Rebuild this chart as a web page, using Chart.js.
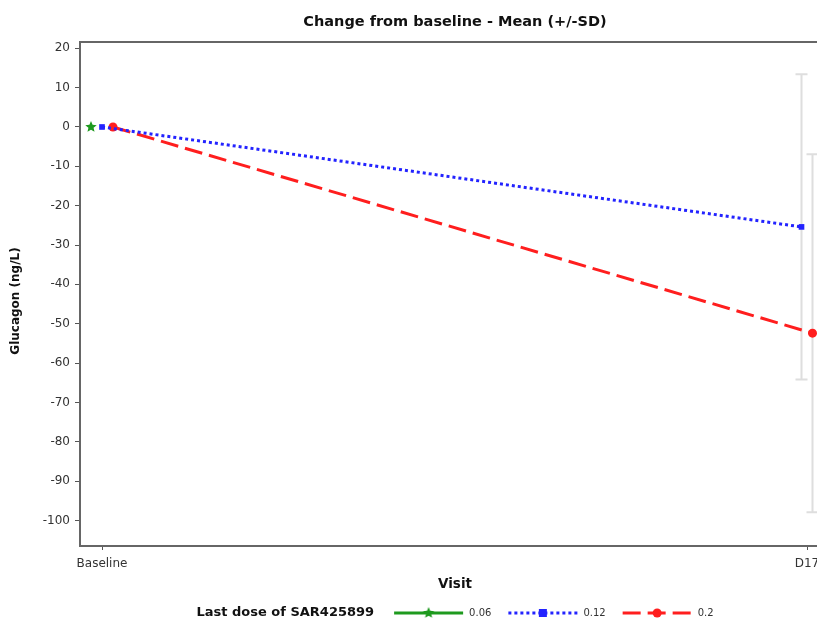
<!DOCTYPE html>
<html>
<head>
<meta charset="utf-8">
<script src="https://cdn.jsdelivr.net/npm/chart.js@4"></script>
<style>
html,body{margin:0;padding:0;background:#fff;overflow:hidden;}
#wrap{width:817px;height:621px;overflow:hidden;position:relative;}
canvas{display:block;}
</style>
</head>
<body>
<div id="wrap"><canvas id="c" width="860" height="621"></canvas></div>
<script>
// ---- data ----
const visits = ['Baseline', 'D17'];
const doseLabels = ['0.06', '0.12', '0.2'];
const mean006 = [0, null];
const mean012 = [0, -25.4];
const mean020 = [0, -52.4];
const sd006 = [0, null];
const sd012 = [0, 38.8];
const sd020 = [0, 45.5];
const yTickValues = [20, 10, 0, -10, -20, -30, -40, -50, -60, -70, -80, -90, -100];
const chartTitle = 'Change from baseline - Mean (+/-SD)';
const yTitle = 'Glucagon (ng/L)';
const xTitle = 'Visit';
const legendTitle = 'Last dose of SAR425899';

// ---- styles ----
const FONT = "'DejaVu Sans', Verdana, sans-serif";
const colors = ['#1e9a1e', '#2323ff', '#ff1e1e'];
const dashes = [[], [3, 3], [18, 7]];
const means = [mean006, mean012, mean020];
const sds = [sd006, sd012, sd020];
const clusterStep = 11 / 705;

function starImage(color, r) {
  const c = document.createElement('canvas');
  const s = Math.ceil(r * 2 + 2);
  c.width = s; c.height = s;
  const g = c.getContext('2d');
  g.fillStyle = color;
  g.beginPath();
  for (let i = 0; i < 10; i++) {
    const a = -Math.PI / 2 + i * Math.PI / 5;
    const rr = i % 2 === 0 ? r : r * 0.45;
    const x = s / 2 + rr * Math.cos(a), y = s / 2 + rr * Math.sin(a);
    if (i === 0) g.moveTo(x, y); else g.lineTo(x, y);
  }
  g.closePath(); g.fill();
  return c;
}
const star = starImage(colors[0], 6);
const pointStyles = [star, 'rect', 'circle'];
const pointRadius = [6, 4, 4.5];

// cluster offsets: groups present at each visit are spread around the tick
function buildPoints(gi) {
  const pts = [];
  visits.forEach((v, vi) => {
    const present = means.map((m, k) => m[vi] !== null ? k : -1).filter(k => k >= 0);
    const idx = present.indexOf(gi);
    if (idx < 0) return;
    const off = (idx - (present.length - 1) / 2) * clusterStep;
    pts.push({ x: vi + off, y: means[gi][vi], sd: sds[gi][vi] });
  });
  return pts;
}

const datasets = doseLabels.map((lab, i) => ({
  label: lab,
  data: buildPoints(i),
  borderColor: colors[i],
  backgroundColor: colors[i],
  borderWidth: 3,
  borderDash: dashes[i],
  pointStyle: pointStyles[i],
  pointRadius: pointRadius[i],
  pointBorderWidth: 0,
  pointBackgroundColor: colors[i],
  fill: false,
  tension: 0
}));

const errorBars = {
  id: 'errorBars',
  beforeDatasetsDraw(chart) {
    const { ctx, scales: { x, y } } = chart;
    ctx.save();
    ctx.strokeStyle = '#dedede';
    ctx.lineWidth = 2;
    chart.data.datasets.forEach(ds => {
      ds.data.forEach(p => {
        if (!p.sd) return;
        const px = x.getPixelForValue(p.x);
        const t = y.getPixelForValue(p.y + p.sd);
        const b = y.getPixelForValue(p.y - p.sd);
        ctx.beginPath();
        ctx.moveTo(px, t); ctx.lineTo(px, b);
        ctx.moveTo(px - 6, t); ctx.lineTo(px + 6, t);
        ctx.moveTo(px - 6, b); ctx.lineTo(px + 6, b);
        ctx.stroke();
      });
    });
    ctx.restore();
  }
};

const frameTitleLegend = {
  id: 'frameTitleLegend',
  afterDraw(chart) {
    const { ctx, chartArea: a } = chart;
    ctx.save();
    // top frame line
    ctx.strokeStyle = '#666';
    ctx.lineWidth = 2;
    ctx.beginPath();
    ctx.moveTo(a.left, a.top); ctx.lineTo(a.right + 40, a.top);
    ctx.stroke();
    const cx = (a.left + a.right) / 2;
    // title
    ctx.fillStyle = '#111';
    ctx.font = 'bold 14.5px ' + FONT;
    ctx.textAlign = 'center';
    ctx.textBaseline = 'middle';
    ctx.fillText(chartTitle, cx, 22);
    // y axis title
    ctx.save();
    ctx.translate(16, 301);
    ctx.rotate(-Math.PI / 2);
    ctx.font = 'bold 12px ' + FONT;
    ctx.fillText(yTitle, 0, 0);
    ctx.restore();
    // legend
    const ly = 613;
    const lineLen = 69, gapTitle = 20, gapLine = 6, gapItem = 17;
    ctx.font = 'bold 13px ' + FONT;
    const tw = ctx.measureText(legendTitle).width;
    ctx.font = '10px ' + FONT;
    const iw = doseLabels.map(l => ctx.measureText(l).width);
    let total = tw + gapTitle;
    iw.forEach((w, i) => { total += lineLen + gapLine + w + (i < iw.length - 1 ? gapItem : 0); });
    let xx = cx - total / 2;
    ctx.textAlign = 'left';
    ctx.font = 'bold 13px ' + FONT;
    ctx.fillStyle = '#111';
    ctx.fillText(legendTitle, xx, ly);
    xx += tw + gapTitle;
    ctx.font = '10px ' + FONT;
    doseLabels.forEach((l, i) => {
      ctx.strokeStyle = colors[i];
      ctx.lineWidth = 3;
      ctx.setLineDash(dashes[i]);
      ctx.beginPath();
      ctx.moveTo(xx, ly); ctx.lineTo(xx + lineLen, ly);
      ctx.stroke();
      ctx.setLineDash([]);
      const mx = xx + lineLen / 2;
      ctx.fillStyle = colors[i];
      if (i === 0) ctx.drawImage(star, mx - star.width / 2, ly - star.height / 2);
      else if (i === 1) ctx.fillRect(mx - 4, ly - 4, 8, 8);
      else { ctx.beginPath(); ctx.arc(mx, ly, 4.5, 0, Math.PI * 2); ctx.fill(); }
      xx += lineLen + gapLine;
      ctx.fillStyle = '#333';
      ctx.fillText(l, xx, ly);
      xx += iw[i] + gapItem;
    });
    ctx.restore();
  }
};

new Chart(document.getElementById('c'), {
  type: 'line',
  data: { datasets },
  plugins: [errorBars, frameTitleLegend],
  options: {
    responsive: false,
    animation: false,
    devicePixelRatio: 1,
    layout: { padding: { top: 42, right: 30, left: 0, bottom: 0 } },
    plugins: { legend: { display: false }, title: { display: false }, tooltip: { enabled: false } },
    scales: {
      x: {
        type: 'linear',
        min: -22 / 705,
        max: -22 / 705 + 750 / 705,
        afterBuildTicks(s) { s.ticks = visits.map((_, i) => ({ value: i })); },
        afterFit(s) { s.height = 75; },
        ticks: {
          autoSkip: false, maxRotation: 0, padding: 7,
          color: '#333', font: { family: FONT, size: 12 },
          callback: v => visits[Math.round(v)]
        },
        grid: { drawOnChartArea: false, drawTicks: true, tickLength: 4, color: '#555' },
        border: { display: true, color: '#666', width: 2 },
        title: { display: true, text: xTitle, color: '#111', font: { family: FONT, size: 13.5, weight: 'bold' }, padding: { top: 0, bottom: 28 } }
      },
      y: {
        min: -106.5,
        max: 21.6,
        afterBuildTicks(s) { s.ticks = yTickValues.map(v => ({ value: v })); },
        afterFit(s) { s.width = 80; },
        ticks: { padding: 5, color: '#333', font: { family: FONT, size: 12 } },
        grid: { drawOnChartArea: false, drawTicks: true, tickLength: 5, color: '#555' },
        border: { display: true, color: '#666', width: 2 },
        title: { display: false, text: yTitle }
      }
    }
  }
});
</script>
</body>
</html>
